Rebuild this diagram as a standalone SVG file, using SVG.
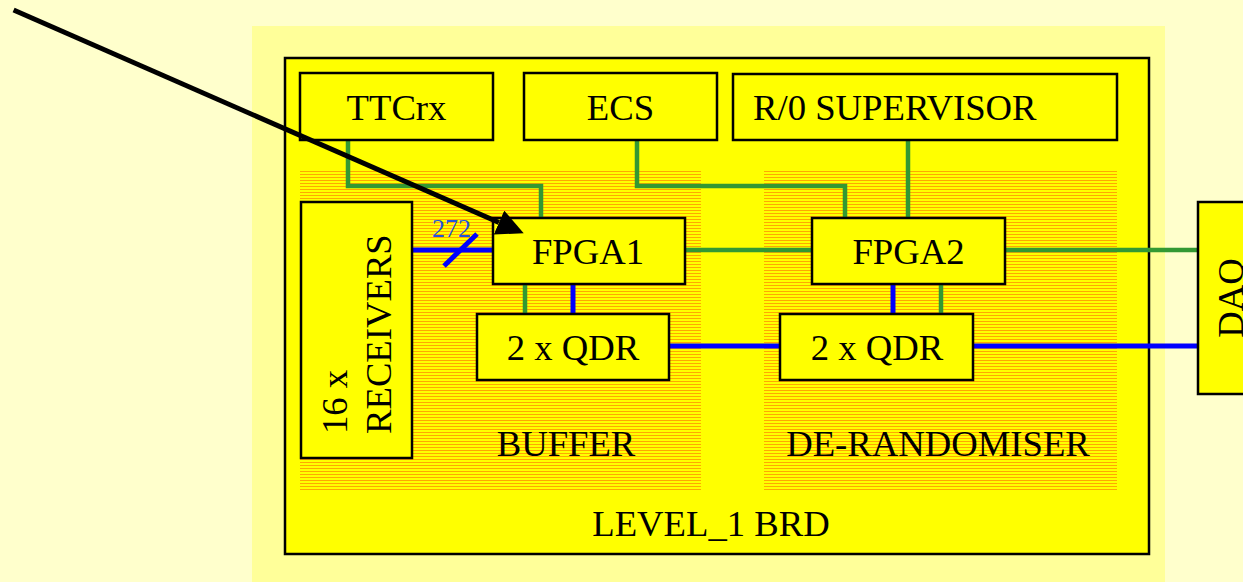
<svg xmlns="http://www.w3.org/2000/svg" width="1243" height="582" viewBox="0 0 1243 582">
<defs>
<style>
.box{fill:#FFFF00;stroke:#000;stroke-width:2.5}
.t{font-family:"Liberation Serif","Times New Roman",serif;font-size:36.7px;fill:#000;text-anchor:middle}
.g{fill:none;stroke:#339933;stroke-width:4.5}
.b{fill:none;stroke:#0000FF;stroke-width:5}
</style>
<pattern id="hatch" patternUnits="userSpaceOnUse" x="0" y="171" width="6" height="3">
<rect width="6" height="3" fill="#FFFF00"/>
<rect y="0" width="6" height="1" fill="#FFA800"/>
</pattern>
<marker id="ah" markerUnits="userSpaceOnUse" viewBox="0 0 27 26" refX="0" refY="13" markerWidth="27" markerHeight="26" orient="auto">
<path d="M0,0 L27,13 L0,26 z" fill="#000"/>
</marker>
</defs>
<rect width="1243" height="582" fill="#FFFFCC"/>
<rect x="252" y="26" width="913" height="556" fill="#FFFF99"/>
<g id="board">
<rect x="285" y="58" width="864" height="496" fill="#FFFF00" stroke="#000" stroke-width="2.5"/>
<rect x="300" y="171" width="401" height="319" fill="url(#hatch)"/>
<rect x="764" y="171" width="353" height="319" fill="url(#hatch)"/>
<text class="t" x="711" y="536">LEVEL_1 BRD</text>
</g>
<g id="buffer-label"><text class="t" x="566" y="456">BUFFER</text></g>
<g id="derandomiser-label"><text class="t" x="938" y="456">DE-RANDOMISER</text></g>
<g id="connectors">
<polyline class="g" points="348,140 348,186 541,186 541,218"/>
<polyline class="g" points="637,140 637,186 845,186 845,218"/>
<line class="g" x1="908" y1="140" x2="908" y2="218"/>
<line class="g" x1="685" y1="250" x2="812" y2="250"/>
<line class="g" x1="1005" y1="250" x2="1198" y2="250"/>
<line class="g" x1="525" y1="284" x2="525" y2="314"/>
<line class="b" x1="573" y1="284" x2="573" y2="314"/>
<line class="b" x1="893" y1="284" x2="893" y2="314"/>
<line class="g" x1="941" y1="284" x2="941" y2="314"/>
<line class="b" x1="669" y1="346" x2="780" y2="346"/>
<line class="b" x1="973" y1="346" x2="1198" y2="346"/>
<line class="b" x1="412" y1="250" x2="493" y2="250"/>
<line class="b" x1="444" y1="266" x2="477" y2="234" stroke-width="4.5"/>
<text x="451.5" y="237" font-family="'Liberation Serif','Times New Roman',serif" font-size="26" fill="#2255DD" text-anchor="middle">272</text>
</g>
<g id="ttcrx"><rect class="box" x="300" y="73" width="193" height="67"/><text class="t" x="396.5" y="120">TTCrx</text></g>
<g id="ecs"><rect class="box" x="524" y="73" width="193" height="67"/><text class="t" x="620.5" y="120">ECS</text></g>
<g id="supervisor"><rect class="box" x="733" y="74" width="384" height="66"/><text class="t" x="753" y="120" style="text-anchor:start">R/0 SUPERVISOR</text></g>
<g id="receivers"><rect class="box" x="301" y="202" width="111" height="256"/>
<text class="t" transform="translate(347,434) rotate(-90)" style="text-anchor:start"><tspan x="0" y="0">16 x</tspan><tspan x="0" y="44">RECEIVERS</tspan></text></g>
<g id="fpga1"><rect class="box" x="493" y="218" width="192" height="66"/><text class="t" x="588" y="264">FPGA1</text></g>
<g id="qdr1"><rect class="box" x="477" y="314" width="192" height="66"/><text class="t" x="573" y="360">2 x QDR</text></g>
<g id="fpga2"><rect class="box" x="812" y="218" width="193" height="66"/><text class="t" x="908.5" y="264">FPGA2</text></g>
<g id="qdr2"><rect class="box" x="780" y="314" width="193" height="66"/><text class="t" x="877" y="360">2 x QDR</text></g>
<g id="daq"><rect class="box" x="1198" y="202" width="60" height="192"/><text class="t" transform="translate(1243,298) rotate(-90)">DAQ</text></g>
<g id="arrow"><line x1="13.6" y1="10" x2="499" y2="222.5" stroke="#000" stroke-width="5" marker-end="url(#ah)"/></g>
</svg>
